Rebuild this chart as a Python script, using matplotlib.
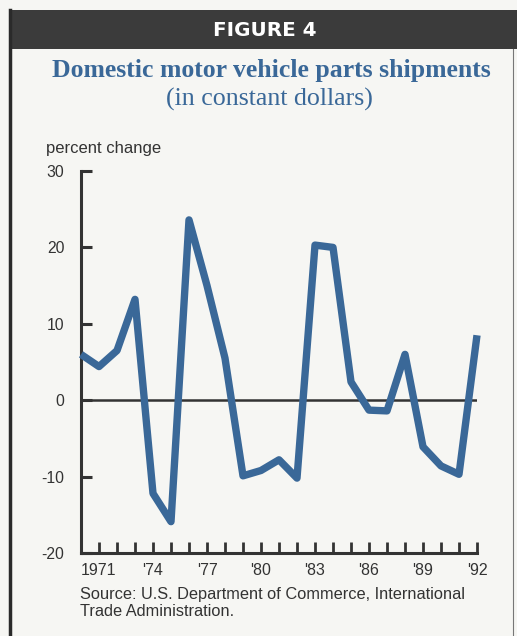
import matplotlib.pyplot as plt
from matplotlib.patches import Rectangle
from matplotlib.lines import Line2D

# dados
anos = list(range(1970, 1993))
variacao = [6.0, 4.4, 6.5, 13.2, -12.2, -15.9, 23.6, 15.0, 5.5, -9.9, -9.2, -7.8,
            -10.2, 20.3, 20.0, 2.4, -1.3, -1.4, 6.0, -6.1, -8.6, -9.7, 8.5]
yticks = [-20, -10, 0, 10, 20, 30]
xtick_anos = [1971, 1974, 1977, 1980, 1983, 1986, 1989, 1992]
xtick_labels = ['1971', "'74", "'77", "'80", "'83", "'86", "'89", "'92"]

fundo = '#f6f6f3'
azul = '#3a6898'
escuro = '#333333'
sans = ['Liberation Sans', 'DejaVu Sans']
serif = ['Liberation Serif', 'DejaVu Serif']

W, H = 517, 636
fig = plt.figure(figsize=(W / 100, H / 100), dpi=100)
fig.patch.set_facecolor(fundo)

# moldura e barra do titulo
fig.add_artist(Rectangle((10 / W, 1 - 49 / H), 1 - 10 / W, 39 / H,
                         transform=fig.transFigure, facecolor='#3b3b3b', edgecolor='none'))
fig.add_artist(Line2D([10 / W, 10 / W], [0, 1 - 10 / H], transform=fig.transFigure,
                      color='#2a2a2a', linewidth=2.5))
fig.add_artist(Line2D([513 / W, 513 / W], [0, 1 - 49 / H], transform=fig.transFigure,
                      color='#777777', linewidth=0.8))

fig.text(265 / W, 1 - 31 / H, 'FIGURE 4', color='white', fontsize=14.3,
         fontweight='bold', family=['DejaVu Sans'], ha='center', va='center')
fig.text(271 / W, 1 - 70 / H, 'Domestic motor vehicle parts shipments', color=azul,
         fontsize=18.5, fontweight='bold', family=serif, ha='center', va='center')
fig.text(269 / W, 1 - 99 / H, '(in constant dollars)', color=azul,
         fontsize=18.6, family=serif, ha='center', va='center')
fig.text(46 / W, 1 - 149 / H, 'percent change', color=escuro, fontsize=12,
         family=sans, ha='left', va='center')

ax = fig.add_axes([81 / W, 1 - 553 / H, (477 - 81) / W, (553 - 171) / H])
ax.set_facecolor('none')

ax.plot(anos, variacao, color=azul, linewidth=5.3, clip_on=False,
        solid_joinstyle='round', solid_capstyle='butt', zorder=3)
ax.axhline(0, color=escuro, linewidth=1.8, zorder=2)

ax.set_xlim(1970, 1992)
ax.set_ylim(-20, 30)
for lado in ['top', 'right']:
    ax.spines[lado].set_visible(False)
for lado in ['left', 'bottom']:
    ax.spines[lado].set_color(escuro)
    ax.spines[lado].set_linewidth(2.2)

ax.set_yticks(yticks)
ax.set_yticklabels([str(v) for v in yticks], family=sans, fontsize=11.3, color=escuro)
ax.tick_params(axis='y', direction='in', length=8, width=2.2, color=escuro, pad=12)

ax.set_xticks(anos[1:])
ax.set_xticklabels([xtick_labels[xtick_anos.index(a)] if a in xtick_anos else ''
                    for a in anos[1:]], family=sans, fontsize=11.5, color=escuro)
ax.tick_params(axis='x', direction='in', length=8, width=2, color=escuro, pad=7)

fig.text(80 / W, 1 - 594 / H, 'Source: U.S. Department of Commerce, International',
         color=escuro, fontsize=11.8, family=sans, ha='left', va='center')
fig.text(80 / W, 1 - 611 / H, 'Trade Administration.',
         color=escuro, fontsize=11.8, family=sans, ha='left', va='center')

fig.savefig('out.png', dpi=100, facecolor=fundo)
